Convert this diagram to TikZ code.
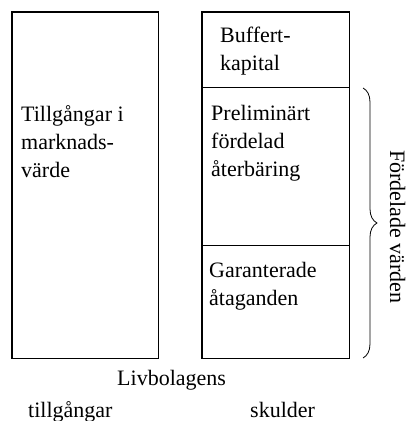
\documentclass[tikz,border=0pt]{standalone}
\usepackage{fontspec}
\setmainfont{Liberation Serif}
\usepackage{tikz}
\usetikzlibrary{decorations.pathreplacing}

\tikzset{
  part/.style={draw, line width=0.9pt, inner sep=0pt},
  label/.style={inner sep=0pt, align=left, anchor=base west,
    font=\fontsize{22}{28}\selectfont},
}

\begin{document}
\begin{tikzpicture}[x=1pt, y=1pt]
  \useasboundingbox (0,0) rectangle (414,421);

  % Draw boxes
  \node[part, minimum width=146, minimum height=346] (assets) at (85,236) {};
  \node[part, minimum width=147, minimum height=75] (buffer) at (275.5,371.5) {};
  \node[part, minimum width=147, minimum height=158.5] (prelim) at (275.5,254.75) {};
  \node[part, minimum width=147, minimum height=112.5] (guar) at (275.5,119.25) {};
  \draw[line width=1.4pt] (assets.south west) rectangle (assets.north east);
  \draw[line width=1.4pt] (buffer.north west) rectangle (guar.south east);

  % Draw texts (base = last line)
  \node[label] (assetstext) at (21,243) {Tillgångar i\\marknads-\\värde};
  \node[label] (buffertext) at (220,350) {Buffert-\\kapital};
  \node[label] (prelimtext) at (211,244) {Preliminärt\\fördelad\\återbäring};
  \node[label] (guartext) at (209,115) {Garanterade\\åtaganden};
  \node[label] (company) at (117,35) {Livbolagens};
  \node[label] (assetslabel) at (28,4) {tillgångar};
  \node[label] (debtlabel) at (250,4) {skulder};

  % Draw brace
  \coordinate (bracetop) at (363,333);
  \coordinate (bracebot) at (363,63);
  \draw[line width=0.8pt, decorate,
    decoration={brace, amplitude=14pt}] (bracetop) -- (bracebot);
  \node[label, anchor=base, rotate=-90] (distributed) at (390,194) {Fördelade värden};
\end{tikzpicture}
\end{document}
